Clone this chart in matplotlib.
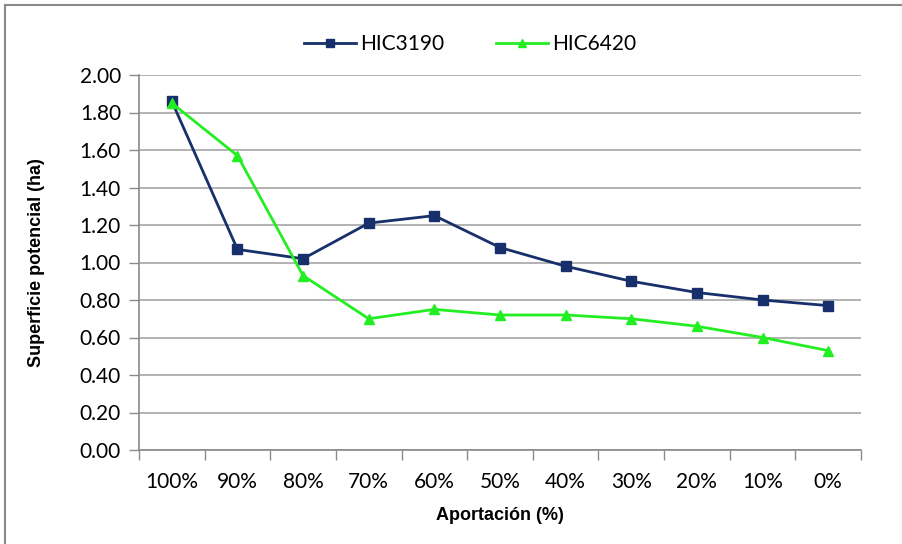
import matplotlib.pyplot as plt
import matplotlib.patches as mpatches
import numpy as np

# datos
aportacion = ['100%', '90%', '80%', '70%', '60%', '50%', '40%', '30%', '20%', '10%', '0%']
hic3190 = [1.86, 1.07, 1.02, 1.21, 1.25, 1.08, 0.98, 0.90, 0.84, 0.80, 0.77]
hic6420 = [1.85, 1.57, 0.93, 0.70, 0.75, 0.72, 0.72, 0.70, 0.66, 0.60, 0.53]

fig = plt.figure(figsize=(9.03, 5.44), dpi=100)
ax = fig.add_axes([139/903, 1-450/544, 722/903, 375/544])

# marco exterior
fig.patches.append(mpatches.Rectangle((5/903, -0.1), 1.2, (544-5)/544 + 0.1,
                   transform=fig.transFigure, fill=False, edgecolor='#8a8a8a', lw=1.5))

x = np.arange(len(aportacion))
ax.plot(x, hic3190, color='#172f6b', lw=2, marker='s', ms=7, label='HIC3190')
ax.plot(x, hic6420, color='#22ee22', lw=2, marker='^', ms=7.5, label='HIC6420')

ax.set_xlim(-0.5, len(aportacion) - 0.5)
ax.set_ylim(0, 2.0)
ax.set_yticks(np.arange(0, 2.01, 0.2))
ax.set_yticklabels(['%.2f' % v for v in np.arange(0, 2.01, 0.2)], fontsize=15, family='Lato')
ax.set_xticks(x)
ax.set_xticklabels(aportacion, fontsize=15, family='Lato')
ax.set_xticks(np.arange(-0.5, len(aportacion)), minor=True)
ax.tick_params(axis='x', which='major', length=0, pad=16)
ax.tick_params(axis='x', which='minor', length=7, color='#8a8a8a', width=1)
ax.tick_params(axis='y', length=7, color='#8a8a8a', width=1, pad=6)

ax.grid(axis='y', color='#a6a6a6', lw=1.2)
ax.set_axisbelow(True)
for s in ['top', 'right']:
    ax.spines[s].set_visible(False)
for s in ['left', 'bottom']:
    ax.spines[s].set_color('#8a8a8a')
    ax.spines[s].set_linewidth(1.2)

ax.set_ylabel('Superficie potencial (ha)', fontsize=13, fontweight='bold', family='Liberation Sans')
ax.set_xlabel('Aportación (%)', fontsize=13, fontweight='bold', family='Liberation Sans')
ax.yaxis.set_label_coords((45-139)/722, 0.5)
ax.xaxis.set_label_coords((500-139)/722, -(507-450)/375)

ax.legend(loc='center', bbox_to_anchor=(470/903, 1-44/544), bbox_transform=fig.transFigure,
          ncol=2, frameon=False, prop={'family': 'Lato', 'size': 15},
          handlelength=2.5, columnspacing=2.5, handletextpad=0.2, markerscale=0.8)

fig.savefig('out.png', dpi=100)
